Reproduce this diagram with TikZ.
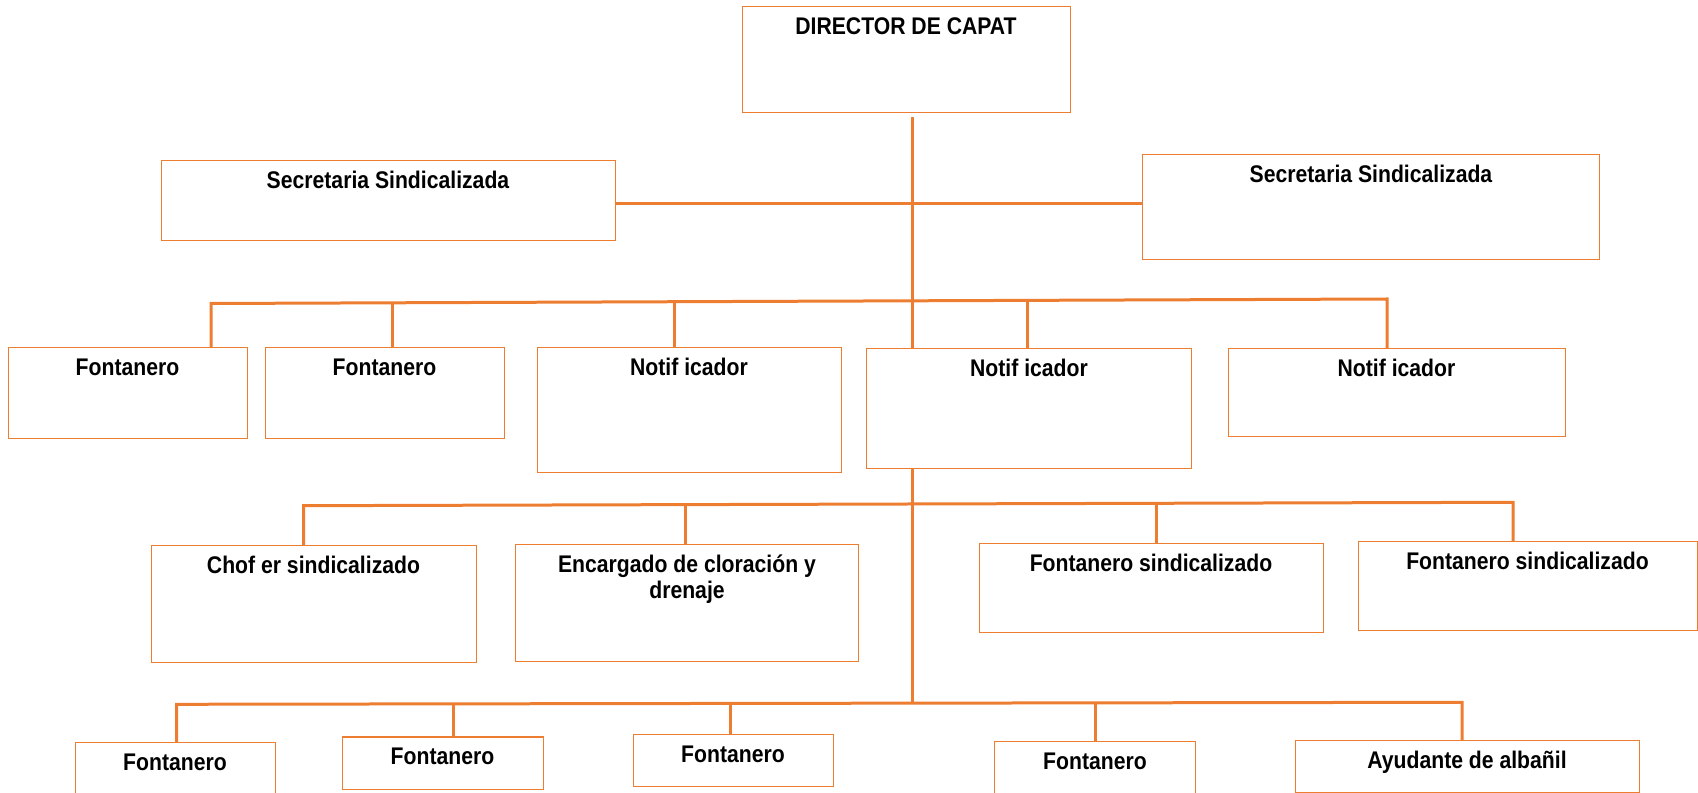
\documentclass[tikz,border=0pt]{standalone}
\usepackage{fontspec}
\setmainfont{Liberation Sans}[FakeStretch=0.88]
\definecolor{orgline}{HTML}{ED7D31}

\begin{document}
\begin{tikzpicture}[x=0.02cm,y=-0.02cm,line join=miter,
  box/.style 2 args={draw=orgline,line width=0.02cm,inner sep=0pt,minimum width=#1*0.02cm,minimum height=#2*0.02cm},
  lbl/.style={anchor=base,yshift=-0.57cm,inner sep=0pt,align=center,font=\bfseries\fontsize{13.7}{14.8}\selectfont},
  bus/.style={draw=orgline,line width=0.06cm}]
  \clip (0,0) rectangle (1698,793);
  % top
  \node[box={328}{106},label={[lbl]north:DIRECTOR DE CAPAT}] (dir) at (906,60) {};
  \node[box={454}{80},label={[lbl]north:Secretaria Sindicalizada}] (secl) at (388,201) {};
  \node[box={457}{105},label={[lbl]north:Secretaria Sindicalizada}] (secr) at (1371,207) {};
  % second row
  \node[box={239}{91},label={[lbl]north:Fontanero}] (f1) at (127.5,393.5) {};
  \node[box={239}{91},label={[lbl]north:Fontanero}] (f2) at (384.5,393.5) {};
  \node[box={304}{125},label={[lbl]north:Notif icador}] (n1) at (689,410) {};
  \node[box={325}{120},label={[lbl]north:Notif icador}] (n2) at (1029,409) {};
  \node[box={337}{88},label={[lbl]north:Notif icador}] (n3) at (1396.5,393) {};
  % third row
  \node[box={325}{117},label={[lbl]north:Chof er sindicalizado}] (ch) at (313.5,604) {};
  \node[box={343}{117},label={[lbl,yshift=-0.52cm]north:Encargado de cloración y\\drenaje}] (enc) at (687,603) {};
  \node[box={344}{89},label={[lbl]north:Fontanero sindicalizado}] (fs1) at (1151,588) {};
  \node[box={339}{89},label={[lbl]north:Fontanero sindicalizado}] (fs2) at (1527.5,586) {};
  % bottom row
  \node[box={200}{53},label={[lbl]north:Fontanero}] (g1) at (175,769) {};
  \node[box={201}{52},label={[lbl]north:Fontanero}] (g2) at (442.5,763) {};
  \node[box={200}{52},label={[lbl]north:Fontanero}] (g3) at (733,760.5) {};
  \node[box={201}{53},label={[lbl]north:Fontanero}] (g4) at (1095,768) {};
  \node[box={344}{52},label={[lbl]north:Ayudante de albañil}] (ay) at (1467,766.5) {};

  % trunk
  \coordinate (t0) at (912,117);
  \coordinate (t1) at (912,204);
  \draw[bus] (t0) -- (t0 |- n2.north);
  \draw[bus] (secl.east |- t1) -- (secr.west |- t1);

  % buses
  \coordinate (b2a) at (211,303.5);
  \coordinate (b2f) at (1387,299);
  \draw[bus] (f1.north -| b2a) -- (b2a) -- (b2f) -- (n3.north -| b2f);
  \path (b2a) -- (b2f) coordinate[pos=0.154] (b2b) coordinate[pos=0.394] (b2c) coordinate[pos=0.694] (b2e);
  \foreach \c/\n in {b2b/f2,b2c/n1,b2e/n2}
    \draw[bus] (\c) -- (\n.north -| \c);

  \coordinate (b3a) at (303.5,505.7);
  \coordinate (b3f) at (1513,502.3);
  \draw[bus] (ch.north -| b3a) -- (b3a) -- (b3f) -- (fs2.north -| b3f);
  \path (b3a) -- (b3f) coordinate[pos=0.316] (b3b) coordinate[pos=0.705] (b3d);
  \foreach \c/\n in {b3b/enc,b3d/fs1}
    \draw[bus] (\c) -- (\n.north -| \c);

  \coordinate (b4a) at (176.7,704.3);
  \coordinate (b4f) at (1462,702.3);
  \draw[bus] (g1.north -| b4a) -- (b4a) -- (b4f) -- (ay.north -| b4f);
  \path (b4a) -- (b4f) coordinate[pos=0.215] (b4b) coordinate[pos=0.431] (b4c) coordinate[pos=0.715] (b4e);
  \foreach \c/\n in {b4b/g2,b4c/g3,b4e/g4}
    \draw[bus] (\c) -- (\n.north -| \c);

  \draw[bus] (t0 |- n2.south) -- (t0 |- b4a);
\end{tikzpicture}
\end{document}
